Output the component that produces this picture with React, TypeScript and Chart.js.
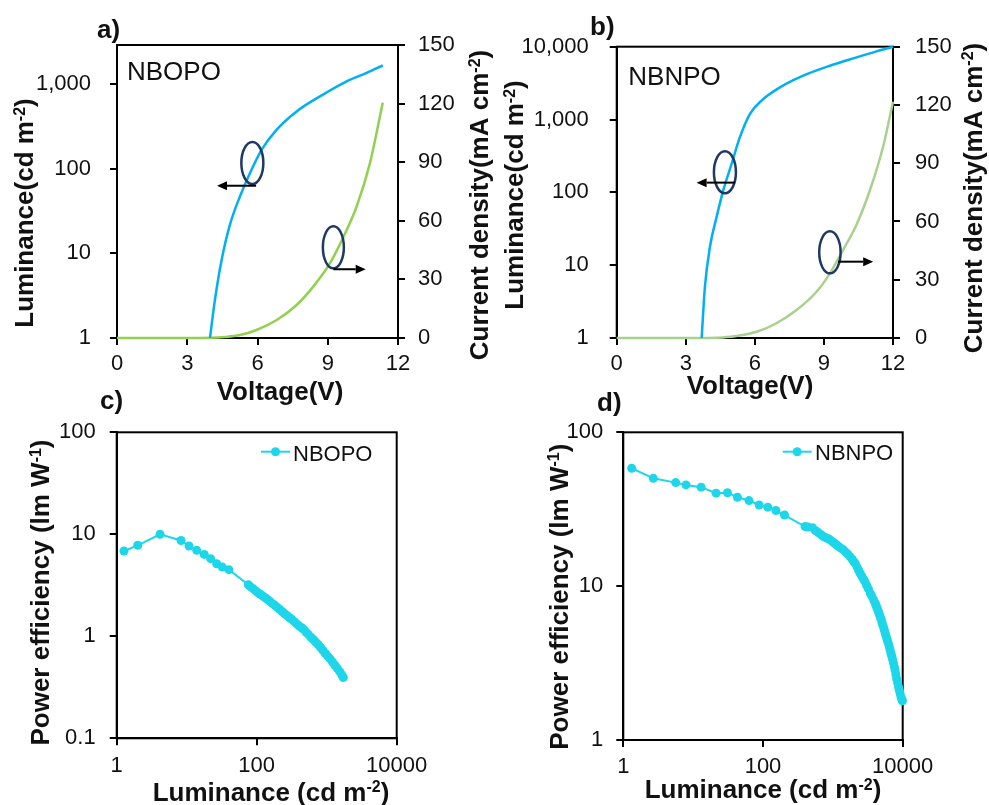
import React, { useEffect, useRef } from 'react';
import { Chart, registerables } from 'chart.js';
Chart.register(...registerables);

const FONT = '"Liberation Sans", Arial, Helvetica, sans-serif';

// ---------- DATA ----------
// Panel a (NBOPO): luminance vs voltage, current density vs voltage
const voltageA_lum = [3.97, 4.18, 4.47, 4.82, 5.25, 5.68, 6.18, 6.82, 7.67, 8.67, 9.81, 10.66, 11.35];
const luminanceA = [1.0, 2.8, 8.4, 21.7, 47, 89, 168, 290, 476, 718, 1080, 1358, 1660];
const voltageA_cur = [0, 1, 2, 3, 4, 4.6, 5.25, 5.96, 6.82, 7.67, 8.38, 9.09, 9.66, 10.23, 10.8, 11.35];
const currentA = [0, 0, 0, 0, 0.1, 0.5, 1.5, 4.1, 9.2, 16.9, 26.3, 38.2, 51.5, 67.2, 89.4, 120.5];

// Panel b (NBNPO)
const voltageB_lum = [3.69, 3.83, 4.05, 4.34, 4.63, 4.99, 5.35, 5.79, 6.29, 7.09, 8.1, 9.26, 10.42, 11.28, 12];
const luminanceB = [1.0, 5.0, 17.9, 46, 107, 246, 572, 1197, 1820, 2760, 4000, 5480, 7130, 8630, 10000];
const voltageB_cur = [0, 1, 2, 3, 4, 4.6, 5.2, 6.08, 6.94, 7.81, 8.68, 9.26, 9.83, 10.42, 11.0, 11.57, 12];
const currentB = [0, 0, 0, 0, 0.05, 0.3, 1, 3.2, 7.6, 14.4, 23.8, 33.3, 45.3, 58.5, 76.2, 98.5, 121.7];

// Panel c (NBOPO): power efficiency vs luminance
const luminanceC = [1.27, 2.0, 4.16, 8.3, 10.8, 13.9, 17.8, 22, 26.8, 32.3, 40,
  76, 82, 89, 96, 104, 112, 121, 131, 142, 154, 167, 181, 196, 212, 230, 249, 270, 292, 316, 342,
  370, 400, 433, 469, 507, 549, 594, 643, 696, 753, 815, 882, 955, 1033, 1118, 1210, 1310, 1418,
  1535, 1640, 1726];
const powerEffC = [6.86, 7.8, 10.0, 8.7, 7.68, 6.96, 6.35, 5.77, 5.15, 4.77, 4.5,
  3.2, 3.05, 2.93, 2.8, 2.68, 2.6, 2.5, 2.4, 2.3, 2.2, 2.1, 2.02, 1.93, 1.84, 1.75, 1.67, 1.6, 1.53, 1.47, 1.4,
  1.33, 1.27, 1.22, 1.17, 1.1, 1.04, 0.98, 0.93, 0.88, 0.83, 0.78, 0.73, 0.68, 0.64, 0.6, 0.56, 0.52, 0.485,
  0.45, 0.42, 0.395];

// Panel d (NBNPO)
const luminanceD = [1.32, 2.69, 5.63, 7.9, 13, 21.3, 31, 43, 63, 88, 117, 153, 203,
  400, 440, 510, 560, 620, 680, 733, 800, 860, 915, 990, 1060, 1140, 1230, 1320, 1420, 1530, 1650,
  1770, 1900, 2000, 2100, 2220, 2340, 2460, 2600, 2750, 2890, 3050, 3230, 3430, 3620, 3830, 4040,
  4150, 4270, 4390, 4510, 4630, 4760, 4900, 5030, 5170, 5320, 5470, 5620, 5780, 5940, 6100, 6270,
  6430, 6600, 6790, 6980, 7170, 7370, 7570, 7770, 7980, 8200, 8450, 8700, 8950, 9200, 9450, 9700, 9900];
const powerEffD = [58.4, 50.2, 47.1, 45.5, 44, 40.2, 40.5, 37.8, 36, 33.7, 32.6, 31, 29,
  24.4, 24.2, 24, 23, 22.3, 21.6, 21, 20.6, 20.3, 20, 19.4, 19, 18.5, 18, 17.6, 17.2, 16.6, 16.1,
  15.5, 14.9, 14.4, 14.0, 13.3, 12.7, 12.1, 11.6, 11.1, 10.7, 10.1, 9.6, 9.0, 8.6, 8.15, 7.74,
  7.5, 7.25, 7.02, 6.8, 6.57, 6.34, 6.1, 5.85, 5.62, 5.4, 5.17, 4.94, 4.74, 4.55, 4.37, 4.2,
  4.02, 3.85, 3.67, 3.5, 3.33, 3.17, 3.0, 2.85, 2.67, 2.5, 2.36, 2.22, 2.1, 2.0, 1.9, 1.84, 1.8];

const seriesNames = ['NBOPO', 'NBNPO'];

// Tick values
const voltageTicks = [0, 3, 6, 9, 12];
const currentTicks = [0, 30, 60, 90, 120, 150];
const lumTicksA = [1, 10, 100, 1000];
const lumTicksB = [1, 10, 100, 1000, 10000];
const lumTicksPE = [1, 100, 10000];
const peTicksC = [0.1, 1, 10, 100];
const peTicksD = [1, 10, 100];

// ---------- STYLE ----------
const BLUE = '#00b0f0';
const GREEN_A = '#92d050';
const GREEN_B = '#a9d18e';
const CYAN = '#1dd6ea';
const NAVY = '#1f3864';
const TEXT = '#111';

type Part = { t: string; sup?: boolean };

function drawRich(ctx: CanvasRenderingContext2D, parts: Part[], cx: number, cy: number, rot: number, size: number, bold: boolean) {
  const w = bold ? 'bold ' : '';
  const fBase = `${w}${size}px ${FONT}`;
  const fSup = `${w}${Math.round(size * 0.6)}px ${FONT}`;
  let total = 0;
  const widths = parts.map((p) => {
    ctx.font = p.sup ? fSup : fBase;
    const m = ctx.measureText(p.t).width;
    total += m;
    return m;
  });
  ctx.save();
  ctx.translate(cx, cy);
  ctx.rotate(rot);
  ctx.fillStyle = TEXT;
  ctx.textBaseline = 'alphabetic';
  ctx.textAlign = 'left';
  let x = -total / 2;
  const base = size * 0.36;
  parts.forEach((p, i) => {
    ctx.font = p.sup ? fSup : fBase;
    ctx.fillText(p.t, x, p.sup ? base - size * 0.33 : base);
    x += widths[i];
  });
  ctx.restore();
}

const LUM_TITLE: Part[] = [{ t: 'Luminance(cd m' }, { t: '-2', sup: true }, { t: ')' }];
const CUR_TITLE: Part[] = [{ t: 'Current density(mA cm' }, { t: '-2', sup: true }, { t: ')' }];
const VOLT_TITLE: Part[] = [{ t: 'Voltage(V)' }];
const PE_TITLE: Part[] = [{ t: 'Power efficiency (lm W' }, { t: '-1', sup: true }, { t: ')' }];
const LUMX_TITLE: Part[] = [{ t: 'Luminance (cd m' }, { t: '-2', sup: true }, { t: ')' }];

interface Spec {
  ox: number; oy: number;
  titles: { parts: Part[]; cx: number; cy: number; rot: number }[];
  texts: { text: string; x: number; y: number; size: number; bold: boolean }[];
  ellipses?: { x: number; y: number; axis: string; rx: number; ry: number }[];
  arrows?: { x1: number; x2: number; y: number; axis: string }[];
  legend?: { name: string; x1: number; x2: number; y: number; tx: number; ty: number };
}

function makeOverlay(spec: Spec) {
  return {
    id: 'overlay',
    beforeDatasetsDraw(chart: any) {
      const { ctx, chartArea: a } = chart;
      ctx.save();
      ctx.strokeStyle = '#000';
      ctx.lineWidth = 2;
      ctx.strokeRect(a.left, a.top, a.right - a.left, a.bottom - a.top);
      ctx.restore();
    },
    afterDraw(chart: any) {
      const ctx: CanvasRenderingContext2D = chart.ctx;
      const { ox, oy } = spec;
      spec.titles.forEach((t) => drawRich(ctx, t.parts, t.cx - ox, t.cy - oy, t.rot, 26, true));
      spec.texts.forEach((t) => {
        ctx.save();
        ctx.font = `${t.bold ? 'bold ' : ''}${t.size}px ${FONT}`;
        ctx.fillStyle = TEXT;
        ctx.textBaseline = 'alphabetic';
        ctx.textAlign = 'left';
        ctx.fillText(t.text, t.x - ox, t.y - oy);
        ctx.restore();
      });
      const xs = chart.scales.x;
      (spec.ellipses || []).forEach((e) => {
        const px = xs.getPixelForValue(e.x);
        const py = chart.scales[e.axis].getPixelForValue(e.y);
        ctx.save();
        ctx.strokeStyle = NAVY;
        ctx.lineWidth = 2.5;
        ctx.beginPath();
        ctx.ellipse(px, py, e.rx, e.ry, 0, 0, Math.PI * 2);
        ctx.stroke();
        ctx.restore();
      });
      (spec.arrows || []).forEach((a) => {
        const p1 = xs.getPixelForValue(a.x1);
        const p2 = xs.getPixelForValue(a.x2);
        const py = chart.scales[a.axis].getPixelForValue(a.y);
        const dir = Math.sign(p2 - p1);
        const hl = 10;
        ctx.save();
        ctx.strokeStyle = '#000';
        ctx.fillStyle = '#000';
        ctx.lineWidth = 2;
        ctx.beginPath();
        ctx.moveTo(p1, py);
        ctx.lineTo(p2 - dir * hl, py);
        ctx.stroke();
        ctx.beginPath();
        ctx.moveTo(p2, py);
        ctx.lineTo(p2 - dir * hl, py - 4.5);
        ctx.lineTo(p2 - dir * hl, py + 4.5);
        ctx.closePath();
        ctx.fill();
        ctx.restore();
      });
      if (spec.legend) {
        const L = spec.legend;
        ctx.save();
        ctx.strokeStyle = CYAN;
        ctx.fillStyle = CYAN;
        ctx.lineWidth = 2;
        ctx.beginPath();
        ctx.moveTo(L.x1 - ox, L.y - oy);
        ctx.lineTo(L.x2 - ox, L.y - oy);
        ctx.stroke();
        ctx.beginPath();
        ctx.arc((L.x1 + L.x2) / 2 - ox, L.y - oy, 4.5, 0, Math.PI * 2);
        ctx.fill();
        ctx.font = `22px ${FONT}`;
        ctx.fillStyle = TEXT;
        ctx.fillText(L.name, L.tx - ox, L.ty - oy);
        ctx.restore();
      }
    },
  };
}

const fixedTicks = (values: number[]) => (axis: any) => {
  axis.ticks = values.map((v) => ({ value: v }));
};

const gridOpts = { drawOnChartArea: false, drawTicks: true, tickLength: 7, color: '#000', lineWidth: 2 };
const borderOpts = { display: true, color: '#000', width: 2 };
const tickFont = { family: FONT, size: 22 };

interface Geo {
  w: number; h: number; top: number; right: number; yW: number; y1W?: number; xH: number;
  yPad: number; y1Pad?: number; xPad: number;
}

function ivlConfig(geo: Geo, vL: number[], L: number[], vJ: number[], J: number[], green: string,
  lumMax: number, lumTicks: number[], spec: Spec) {
  return {
    type: 'line',
    data: {
      datasets: [
        {
          label: 'Luminance',
          data: vL.map((v, i) => ({ x: v, y: L[i] })),
          yAxisID: 'y', borderColor: BLUE, borderWidth: 2.5, pointRadius: 0,
          cubicInterpolationMode: 'monotone', clip: false, fill: false,
        },
        {
          label: 'Current density',
          data: vJ.map((v, i) => ({ x: v, y: J[i] })),
          yAxisID: 'y1', borderColor: green, borderWidth: 2.5, pointRadius: 0,
          cubicInterpolationMode: 'monotone', clip: false, fill: false,
        },
      ],
    },
    options: {
      responsive: false, animation: false, events: [],
      layout: { padding: { top: geo.top, left: 0, right: 0, bottom: 0 } },
      plugins: { legend: { display: false }, tooltip: { enabled: false }, title: { display: false } },
      scales: {
        x: {
          type: 'linear', min: 0, max: 12, afterBuildTicks: fixedTicks(voltageTicks),
          afterFit: (s: any) => { s.height = geo.xH; },
          grid: gridOpts, border: borderOpts,
          ticks: { color: TEXT, font: tickFont, padding: geo.xPad, maxRotation: 0, autoSkip: false, callback: (v: any) => String(v) },
        },
        y: {
          type: 'logarithmic', position: 'left', min: 1, max: lumMax, afterBuildTicks: fixedTicks(lumTicks),
          afterFit: (s: any) => { s.width = geo.yW; },
          grid: gridOpts, border: borderOpts,
          ticks: { color: TEXT, font: tickFont, padding: geo.yPad, autoSkip: false, callback: (v: any) => Number(v).toLocaleString('en-US') },
        },
        y1: {
          type: 'linear', position: 'right', min: 0, max: 150, afterBuildTicks: fixedTicks(currentTicks),
          afterFit: (s: any) => { s.width = geo.y1W; },
          grid: gridOpts, border: borderOpts,
          ticks: { color: TEXT, font: tickFont, padding: geo.y1Pad, autoSkip: false, callback: (v: any) => String(v) },
        },
      },
    },
    plugins: [makeOverlay(spec)],
  };
}

function peConfig(geo: Geo, Lx: number[], PE: number[], yMin: number, yTicks: number[], spec: Spec) {
  return {
    type: 'line',
    data: {
      datasets: [
        {
          label: spec.legend ? spec.legend.name : '',
          data: Lx.map((v, i) => ({ x: v, y: PE[i] })),
          borderColor: CYAN, backgroundColor: CYAN, borderWidth: 2,
          pointRadius: 4.5, pointBorderWidth: 0, pointBackgroundColor: CYAN,
          tension: 0, clip: false, fill: false,
        },
      ],
    },
    options: {
      responsive: false, animation: false, events: [],
      layout: { padding: { top: geo.top, left: 0, right: geo.right, bottom: 0 } },
      plugins: { legend: { display: false }, tooltip: { enabled: false }, title: { display: false } },
      scales: {
        x: {
          type: 'logarithmic', min: 1, max: 10000, afterBuildTicks: fixedTicks(lumTicksPE),
          afterFit: (s: any) => { s.height = geo.xH; },
          grid: gridOpts, border: borderOpts,
          ticks: { color: TEXT, font: tickFont, padding: geo.xPad, maxRotation: 0, autoSkip: false, callback: (v: any) => String(v) },
        },
        y: {
          type: 'logarithmic', position: 'left', min: yMin, max: 100, afterBuildTicks: fixedTicks(yTicks),
          afterFit: (s: any) => { s.width = geo.yW; },
          grid: gridOpts, border: borderOpts,
          ticks: { color: TEXT, font: tickFont, padding: geo.yPad, autoSkip: false, callback: (v: any) => String(v) },
        },
      },
    },
    plugins: [makeOverlay(spec)],
  };
}

// ---------- PANELS ----------
const geoA: Geo = { w: 494, h: 412, top: 45, right: 0, yW: 117, y1W: 96, xH: 74, yPad: 19, y1Pad: 13, xPad: 6 };
const specA: Spec = {
  ox: 0, oy: 0,
  titles: [
    { parts: LUM_TITLE, cx: 24, cy: 213, rot: -Math.PI / 2 },
    { parts: CUR_TITLE, cx: 479, cy: 205, rot: -Math.PI / 2 },
    { parts: VOLT_TITLE, cx: 280, cy: 391, rot: 0 },
  ],
  texts: [
    { text: 'a)', x: 97, y: 37.5, size: 26, bold: true },
    { text: seriesNames[0], x: 127, y: 80, size: 26, bold: false },
  ],
  ellipses: [
    { x: 5.78, y: 117, axis: 'y', rx: 11, ry: 21 },
    { x: 9.24, y: 46.4, axis: 'y1', rx: 10.5, ry: 21 },
  ],
  arrows: [
    { x1: 5.94, x2: 4.27, y: 63, axis: 'y' },
    { x1: 9.24, x2: 10.62, y: 35.2, axis: 'y1' },
  ],
};

const geoB: Geo = { w: 495, h: 412, top: 46.7, right: 0, yW: 122.7, y1W: 96, xH: 74, yPad: 21, y1Pad: 15, xPad: 6 };
const specB: Spec = {
  ox: 494, oy: 0,
  titles: [
    { parts: LUM_TITLE, cx: 514, cy: 195, rot: -Math.PI / 2 },
    { parts: CUR_TITLE, cx: 972.5, cy: 198, rot: -Math.PI / 2 },
    { parts: VOLT_TITLE, cx: 750, cy: 385, rot: 0 },
  ],
  texts: [
    { text: 'b)', x: 590, y: 35, size: 26, bold: true },
    { text: seriesNames[1], x: 628.3, y: 85, size: 26, bold: false },
  ],
  ellipses: [
    { x: 4.70, y: 189, axis: 'y', rx: 11, ry: 21 },
    { x: 9.26, y: 44.1, axis: 'y1', rx: 10.7, ry: 21 },
  ],
  arrows: [
    { x1: 5.13, x2: 3.47, y: 136, axis: 'y' },
    { x1: 9.62, x2: 11.14, y: 39.3, axis: 'y1' },
  ],
};

const geoC: Geo = { w: 494, h: 425, top: 52.3, right: 97.3, yW: 116.7, xH: 66.7, yPad: 14, xPad: 7 };
const specC: Spec = {
  ox: 0, oy: 380,
  titles: [
    { parts: PE_TITLE, cx: 40, cy: 592.5, rot: -Math.PI / 2 },
    { parts: LUMX_TITLE, cx: 271, cy: 791.5, rot: 0 },
  ],
  texts: [{ text: 'c)', x: 100, y: 409, size: 26, bold: true }],
  legend: { name: seriesNames[0], x1: 261, x2: 290, y: 451.7, tx: 293, ty: 460.5 },
};

const geoD: Geo = { w: 495, h: 425, top: 52.3, right: 86.3, yW: 129.3, xH: 65, yPad: 13, xPad: 7 };
const specD: Spec = {
  ox: 494, oy: 380,
  titles: [
    { parts: PE_TITLE, cx: 558.3, cy: 596.7, rot: -Math.PI / 2 },
    { parts: LUMX_TITLE, cx: 763, cy: 789, rot: 0 },
  ],
  texts: [{ text: 'd)', x: 597, y: 411, size: 26, bold: true }],
  legend: { name: seriesNames[1], x1: 782.7, x2: 811.7, y: 451.7, tx: 815, ty: 459.5 },
};

function ChartCanvas({ left, top, w, h, build }: { left: number; top: number; w: number; h: number; build: () => any }) {
  const ref = useRef<HTMLCanvasElement>(null);
  useEffect(() => {
    const c = new Chart(ref.current as HTMLCanvasElement, build());
    return () => c.destroy();
  }, []);
  return (
    <canvas ref={ref} width={w} height={h}
      style={{ position: 'absolute', left, top, width: w, height: h, display: 'block' }} />
  );
}

export default function App() {
  return (
    <div style={{ position: 'absolute', left: 0, top: 0, width: 989, height: 805, background: '#fff', overflow: 'hidden' }}>
      <ChartCanvas left={0} top={0} w={geoA.w} h={geoA.h}
        build={() => ivlConfig(geoA, voltageA_lum, luminanceA, voltageA_cur, currentA, GREEN_A, 2900, lumTicksA, specA)} />
      <ChartCanvas left={494} top={0} w={geoB.w} h={geoB.h}
        build={() => ivlConfig(geoB, voltageB_lum, luminanceB, voltageB_cur, currentB, GREEN_B, 10000, lumTicksB, specB)} />
      <ChartCanvas left={0} top={380} w={geoC.w} h={geoC.h}
        build={() => peConfig(geoC, luminanceC, powerEffC, 0.1, peTicksC, specC)} />
      <ChartCanvas left={494} top={380} w={geoD.w} h={geoD.h}
        build={() => peConfig(geoD, luminanceD, powerEffD, 1, peTicksD, specD)} />
    </div>
  );
}
